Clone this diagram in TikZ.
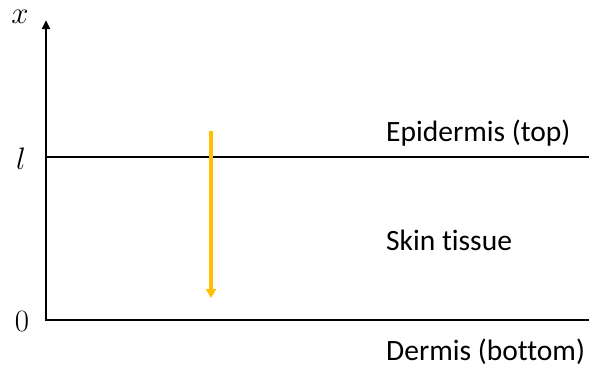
\documentclass[tikz,border=0pt]{standalone}
\usepackage{fix-cm}
\usepackage{fontspec}
\setmainfont[Ligatures=NoCommon]{Carlito}
\usetikzlibrary{arrows.meta, calc}

\tikzset{
    axisline/.style={line width=2.8pt, -{Triangle[length=9pt,width=8pt]}},
    layerline/.style={line width=1.5pt},
    flowarrow/.style={line width=3.5pt, draw={rgb,255:red,255;green,192;blue,0}, -{Triangle[length=9pt,width=10pt]}},
    labeltext/.style={anchor=west, inner sep=0pt, font=\fontsize{29.5}{34}\selectfont},
    ticktext/.style={inner sep=0pt, font=\fontsize{31}{36}\selectfont}
}

\begin{document}
\begin{tikzpicture}[x=1pt, y=-1pt]
    \useasboundingbox (0,0) rectangle (589,367);

    % axis and layers
    \coordinate (o) at (46,320);
    \coordinate (xtop) at (46,20);
    \coordinate (lleft) at (46,157);
    \coordinate (lright) at (589,157);
    \coordinate (oright) at (589,320);
    \draw[axisline] ($(o)+(0,1.4)$) -- (xtop);
    \draw[layerline] (o) -- (oright);
    \draw[layerline] (lleft) -- (lright);

    % ticks
    \node[ticktext] (xlab) at (20,17) {$x$};
    \node[ticktext] (llab) at (21,159) {$l$};
    \node[ticktext] (zlab) at (22,322) {$0$};

    % flux
    \coordinate (fstart) at (211,131);
    \coordinate (fend) at (211,298);
    \draw[flowarrow] (fstart) -- (fend);

    % layer names
    \node[labeltext] (epi) at (386,133) {Epidermis (top)};
    \node[labeltext] (tissue) at (386,240) {Skin tissue};
    \node[labeltext] (derm) at (386,352) {Dermis (bottom)};
\end{tikzpicture}
\end{document}
